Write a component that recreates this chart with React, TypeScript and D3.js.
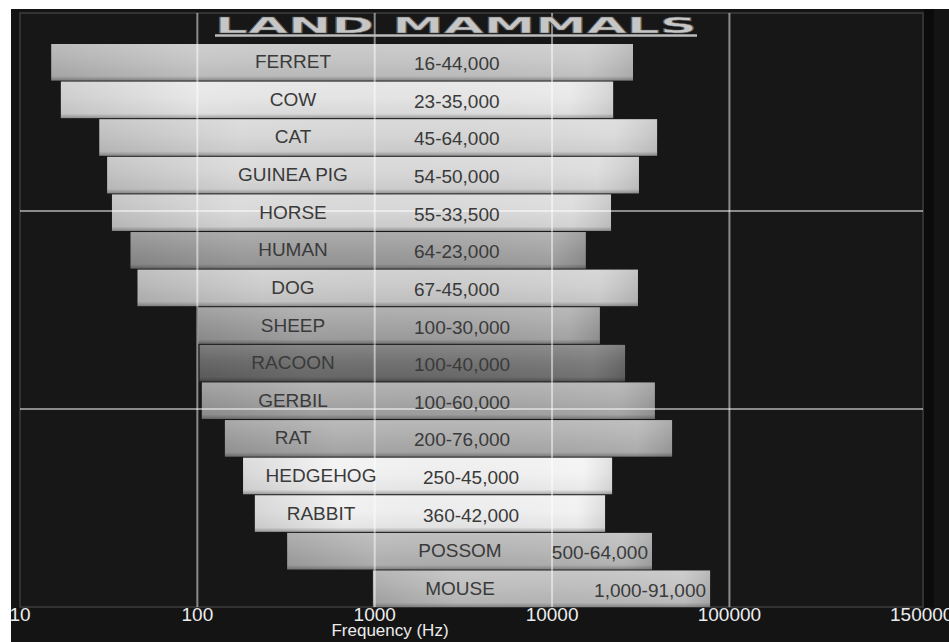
import { useEffect, useRef } from "react";
import * as d3 from "d3";

// animals, top to bottom
const ANIMALS = [
	"FERRET", "COW", "CAT", "GUINEA PIG", "HORSE", "HUMAN", "DOG", "SHEEP",
	"RACOON", "GERBIL", "RAT", "HEDGEHOG", "RABBIT", "POSSOM", "MOUSE",
];

// hearing range as printed on each bar
const RANGE_LABELS = [
	"16-44,000", "23-35,000", "45-64,000", "54-50,000", "55-33,500", "64-23,000",
	"67-45,000", "100-30,000", "100-40,000", "100-60,000", "200-76,000",
	"250-45,000", "360-42,000", "500-64,000", "1,000-91,000",
];

// where each bar actually starts / ends on the log axis (Hz)
const BAR_FROM = [15, 17, 28, 31, 33, 42, 46, 101, 103, 106, 143, 181, 211, 321, 977];
const BAR_TO = [28600, 22100, 39100, 30900, 21500, 15500, 30500, 18600, 25800, 38000, 47500, 21800, 19900, 36600, 77800];

const TICK_VALUES = [10, 100, 1000, 10000, 100000, 1500000];

// bar shades (style)
const SHADES = [
	"#c4c4c4", "#e6e6e6", "#d6d6d6", "#d8d8d8", "#d8d8d8", "#9c9c9c", "#cbcbcb",
	"#a3a3a3", "#6c6c6c", "#a5a5a5", "#acacac", "#f2f2f2", "#f0f0f0", "#b4b4b4", "#bdbdbd",
];

const W = 949;
const H = 642;

export default function App() {
	const ref = useRef<SVGSVGElement>(null);

	useEffect(() => {
		const svg = d3.select(ref.current);
		svg.selectAll("*").remove();

		const frame = { left: 20, top: 13, right: 923, bottom: 607 };

		const x = d3.scaleLog().domain([10, 1500000]).range([20, 938]);
		const y = d3.scaleBand<string>()
			.domain(ANIMALS)
			.range([44, 607])
			.paddingInner(0.03);

		// backgrounds
		svg.append("rect").attr("width", W).attr("height", H).attr("fill", "#fff");
		svg.append("rect")
			.attr("x", 11).attr("y", 9)
			.attr("width", W - 11).attr("height", H - 9)
			.attr("fill", "#141414");
		svg.append("rect")
			.attr("x", frame.left).attr("y", frame.top)
			.attr("width", frame.right - frame.left)
			.attr("height", frame.bottom - frame.top)
			.attr("fill", "#171717")
			.attr("stroke", "#3c3c3c")
			.attr("stroke-width", 1.5);
		svg.append("rect")
			.attr("x", frame.right + 1).attr("y", 9)
			.attr("width", 10).attr("height", frame.bottom - 9)
			.attr("fill", "#0b0b0b");

		// bar shading gradients
		const defs = svg.append("defs");
		const grad = defs.append("linearGradient")
			.attr("id", "barShade")
			.attr("x1", 0).attr("y1", 0).attr("x2", 0).attr("y2", 1);
		grad.append("stop").attr("offset", "0%").attr("stop-color", "#fff").attr("stop-opacity", 0.18);
		grad.append("stop").attr("offset", "45%").attr("stop-color", "#fff").attr("stop-opacity", 0.05);
		grad.append("stop").attr("offset", "88%").attr("stop-color", "#000").attr("stop-opacity", 0.04);
		grad.append("stop").attr("offset", "100%").attr("stop-color", "#000").attr("stop-opacity", 0.3);

		const sideGrad = defs.append("linearGradient")
			.attr("id", "sideShade")
			.attr("x1", 0).attr("y1", 0).attr("x2", 1).attr("y2", 0);
		sideGrad.append("stop").attr("offset", "0%").attr("stop-color", "#000").attr("stop-opacity", 0.12);
		sideGrad.append("stop").attr("offset", "25%").attr("stop-color", "#000").attr("stop-opacity", 0);
		sideGrad.append("stop").attr("offset", "92%").attr("stop-color", "#fff").attr("stop-opacity", 0.08);
		sideGrad.append("stop").attr("offset", "100%").attr("stop-color", "#000").attr("stop-opacity", 0.1);

		const bars = svg.append("g");
		ANIMALS.forEach((name, i) => {
			const x0 = x(BAR_FROM[i]);
			const x1 = x(BAR_TO[i]);
			const y0 = y(name)!;
			const bh = y.bandwidth();

			bars.append("rect")
				.attr("x", x0).attr("y", y0)
				.attr("width", x1 - x0).attr("height", bh)
				.attr("fill", SHADES[i]);
			bars.append("rect")
				.attr("x", x0).attr("y", y0)
				.attr("width", x1 - x0).attr("height", bh)
				.attr("fill", "url(#sideShade)");
			bars.append("rect")
				.attr("x", x0).attr("y", y0)
				.attr("width", x1 - x0).attr("height", bh)
				.attr("fill", "url(#barShade)");
		});

		// grid lines drawn over the bars
		const grid = svg.append("g")
			.attr("stroke", "#fff")
			.attr("stroke-opacity", 0.5)
			.attr("stroke-width", 2);
		TICK_VALUES.slice(1, 5).forEach(v => {
			grid.append("line")
				.attr("x1", x(v)).attr("x2", x(v))
				.attr("y1", frame.top).attr("y2", frame.bottom);
		});
		[1, 2].forEach(k => {
			const gy = frame.top + (frame.bottom - frame.top) * k / 3;
			grid.append("line")
				.attr("x1", frame.left).attr("x2", frame.right)
				.attr("y1", gy).attr("y2", gy);
		});

		// bar labels
		const labels = svg.append("g")
			.attr("font-family", "'Liberation Sans', Arial, sans-serif")
			.attr("font-size", "19px")
			.attr("fill", "#3a3a3a");

		ANIMALS.forEach((name, i) => {
			const x0 = x(BAR_FROM[i]);
			const x1 = x(BAR_TO[i]);
			const cy = y(name)! + y.bandwidth() / 2;
			const lateStart = x0 > 280;

			const nameX = lateStart ? 460 : x0 > 230 ? 321 : 293;
			labels.append("text")
				.attr("x", nameX)
				.attr("y", cy + 6)
				.attr("text-anchor", "middle")
				.text(name);

			labels.append("text")
				.attr("x", lateStart ? x1 - 4 : x0 > 230 ? 423 : 414)
				.attr("y", cy + 8)
				.attr("text-anchor", lateStart ? "end" : "start")
				.text(RANGE_LABELS[i]);
		});

		// title
		svg.append("text")
			.attr("x", 215)
			.attr("y", 33)
			.attr("textLength", 482)
			.attr("lengthAdjust", "spacingAndGlyphs")
			.attr("font-family", "'DejaVu Sans', sans-serif")
			.attr("font-weight", "bold")
			.attr("font-size", "20.5px")
			.attr("fill", "#c6c6c6")
			.attr("stroke", "#555")
			.attr("stroke-width", 0.5)
			.text("LAND MAMMALS");
		svg.append("line")
			.attr("x1", 215).attr("x2", 697)
			.attr("y1", 35.5).attr("y2", 35.5)
			.attr("stroke", "#bdbdbd")
			.attr("stroke-width", 2.5);

		// x axis labels
		const axis = svg.append("g")
			.attr("font-family", "'Liberation Sans', Arial, sans-serif")
			.attr("fill", "#ececec")
			.attr("text-anchor", "middle");
		TICK_VALUES.forEach(v => {
			axis.append("text")
				.attr("x", Math.min(x(v), W - 22))
				.attr("y", 621)
				.attr("font-size", "19px")
				.text(d3.format("d")(v));
		});
		axis.append("text")
			.attr("x", 390)
			.attr("y", 636)
			.attr("font-size", "17px")
			.text("Frequency (Hz)");
	}, []);

	return (
		<svg
			ref={ref}
			width={W}
			height={H}
			style={{ position: "absolute", left: 0, top: 0, display: "block" }}
		/>
	);
}
